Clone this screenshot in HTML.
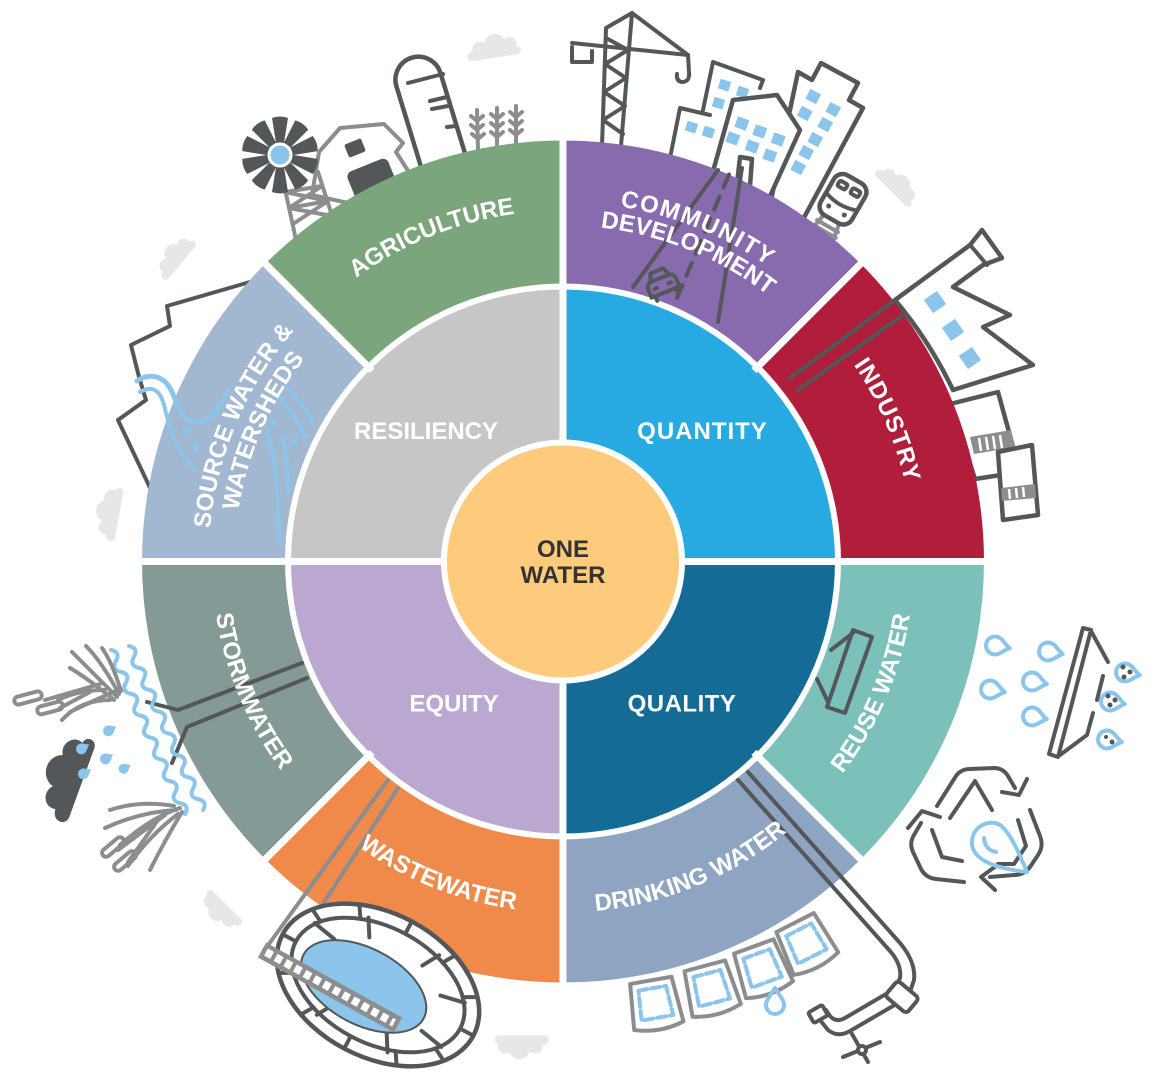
<!DOCTYPE html>
<html><head><meta charset="utf-8">
<style>
html,body{margin:0;padding:0;background:#fff;width:1156px;height:1080px;overflow:hidden}
svg{display:block}
.t{font-family:"Liberation Sans",Arial,sans-serif;font-weight:bold;font-size:24px;fill:#fff}
.d{fill:none;stroke:#54575A;stroke-width:4;stroke-linejoin:round;stroke-linecap:round}
.dw{fill:#fff;stroke:#54575A;stroke-width:4.5;stroke-linejoin:round;stroke-linecap:round}
.g{fill:none;stroke:#8C8D8F;stroke-width:4;stroke-linejoin:round;stroke-linecap:round}
.gw{fill:#fff;stroke:#8C8D8F;stroke-width:4;stroke-linejoin:round;stroke-linecap:round}
.b{fill:none;stroke:#8BC5EC;stroke-width:4;stroke-linejoin:round;stroke-linecap:round}
.bf{fill:#8BC5EC}
.cl{fill:#E6E7E8}
.bw{fill:#8BC5EC}
</style></head><body>
<svg width="1156" height="1080" viewBox="0 0 1156 1080" xmlns="http://www.w3.org/2000/svg">
<defs>
 <path id="w8" d="M563,561.5 L563,140.5 A421,421 0 0 0 265.31,263.81 Z"/>
 <path id="w4" d="M563,561.5 L563,289.5 A272,272 0 0 0 291,561.5 Z"/>
 <path id="tp351" d="M259.03,386 A351,351 0 0 1 866.97,386"/>
 <path id="tp359" d="M251.67,381.75 A359.5,359.5 0 0 1 874.33,381.75"/>
 <path id="tp336" d="M272.02,393.5 A336,336 0 0 1 853.98,393.5"/>
 <path id="tp355" d="M256,384.25 A354.5,354.5 0 0 1 870,384.25"/>
 <path id="tp329" d="M278.52,397.25 A328.5,328.5 0 0 1 847.48,397.25"/>
 <path id="bp351" d="M259.03,737 A351,351 0 0 0 866.97,737"/>
 <path id="cl" d="M-30,12 C-38,12 -38,0 -28,0 C-30,-10 -18,-14 -12,-8 C-9,-20 9,-21 13,-9 C21,-14 31,-6 27,2 C34,3 33,12 26,12 Z"/>
 <path id="dr" d="M12,0 C6,-3 3,-9 -3,-9 A9,9 0 0 0 -3,9 C3,9 6,3 12,0 Z"/>
 <path id="bl" d="M-4,-12 L4,-12 L8,-37 Q0,-40 -8,-37 Z"/>
 <path id="wv" d="M0,0 q8,6 0,12 q-8,6 0,12 q8,6 0,12 q-8,6 0,12 q8,6 0,12 q-8,6 0,12 q8,6 0,12 q-8,6 0,12 q8,6 0,12 q-8,6 0,12 q8,6 0,12 q-8,6 0,12 q8,6 0,12 q-8,6 0,12 q8,6 0,12"/>
</defs>

<!-- ========== BACKGROUND ICONS (behind ring) ========== -->
<use href="#cl" class="cl" transform="translate(495,48) rotate(-9) scale(0.8)"/>
<use href="#cl" class="cl" transform="translate(176,256) rotate(-50) scale(0.72)"/>
<use href="#cl" class="cl" transform="translate(110,512) rotate(-80) scale(0.8)"/>
<use href="#cl" class="cl" transform="translate(898,186) rotate(45) scale(0.72)"/>
<use href="#cl" class="cl" transform="translate(220,910) rotate(-135) scale(0.7)"/>
<use href="#cl" class="cl" transform="translate(520,1045) rotate(180) scale(0.8)"/>

<!-- agriculture: barn -->
<path class="gw" stroke-width="5" d="M312,195 L319,152 L340,128 L384,124 L403,143 L396,152 L414,180 L380,210 Z"/>
<rect x="-9" y="-7" width="18" height="14" rx="2" fill="#54575A" transform="translate(355,148) rotate(-22)"/>
<rect x="-22" y="-16" width="44" height="40" rx="6" fill="#54575A" transform="translate(372,180) rotate(-22)"/>
<path class="g" d="M283,180 L296,240 M318,172 L336,228 M285,192 L322,186 M289,208 L328,201 M285,192 L328,201 M322,186 L289,208 M289,208 L332,216 M328,201 L293,224"/>
<g transform="translate(280,155)" fill="#54575A">
 <use href="#bl"/><use href="#bl" transform="rotate(36)"/><use href="#bl" transform="rotate(72)"/><use href="#bl" transform="rotate(108)"/><use href="#bl" transform="rotate(144)"/><use href="#bl" transform="rotate(180)"/><use href="#bl" transform="rotate(216)"/><use href="#bl" transform="rotate(252)"/><use href="#bl" transform="rotate(288)"/><use href="#bl" transform="rotate(324)"/>
 <circle r="11" fill="#8BC5EC" stroke="#fff" stroke-width="3"/>
</g>
<g transform="translate(443,160) rotate(-17)"><path class="dw" stroke-width="5" d="M-23,14 V-84 A23,23 0 0 1 23,-84 V14"/></g>
<path class="d" d="M408,83 L443,74 M430,101 L447,97 M432,109 L448,106 M447,127 L456,126"/>
<g class="g" stroke-width="4">
 <path d="M477,110 L478,150 M477,121 l-6,-5 M477,121 l6,-5 M477,130 l-6,-5 M477,130 l6,-5 M478,139 l-6,-5 M478,139 l6,-5"/>
 <path d="M497,108 L497,148 M497,119 l-6,-5 M497,119 l6,-5 M497,128 l-6,-5 M497,128 l6,-5 M497,137 l-6,-5 M497,137 l6,-5"/>
 <path d="M516,106 L516,146 M516,117 l-6,-5 M516,117 l6,-5 M516,126 l-6,-5 M516,126 l6,-5 M516,135 l-6,-5 M516,135 l6,-5"/>
</g>

<path class="d" stroke-width="5" d="M250,282 L167,306 L170,326 L131,345 L139,377 L146,400 L118,420 L152,492"/>

<g class="d">
 <path d="M602,146 L606,28 L632,13 L621,146"/>
 <path d="M606,38 L628,50 L605,64 L626,78 L604,92 L625,106 L603,120 L623,134"/>
 <path d="M572,43 L688,55 L632,13"/>
 <path d="M688,55 L689,72 Q690,82 682,82 Q676,81 677,74"/>
 <path d="M572,47 V62 H592 V51"/>
</g>
<polygon fill="#fff" points="668,165 680,108 704,113 713,62 763,80 740,175"/>
<polyline class="d" points="668,168 680,108 710,115"/>
<polyline class="d" points="703,110 713,62 763,80 760,88"/>
<g class="bw">
 <rect x="719" y="80" width="11" height="10" transform="rotate(18 724 85)"/>
 <rect x="737" y="87" width="11" height="10" transform="rotate(18 742 92)"/>
 <rect x="713" y="98" width="11" height="10" transform="rotate(18 718 103)"/>
 <rect x="686" y="122" width="11" height="10" transform="rotate(18 691 127)"/>
 <rect x="703" y="127" width="11" height="10" transform="rotate(18 708 132)"/>
</g>
<polygon class="dw" points="770,205 798,72 812,80 821,63 858,83 849,100 863,108 800,225"/>
<g class="bw">
 <rect x="807" y="91" width="12" height="11" transform="rotate(28 813 97)"/>
 <rect x="827" y="104" width="12" height="11" transform="rotate(28 833 110)"/>
 <rect x="799" y="108" width="12" height="11" transform="rotate(28 805 113)"/>
 <rect x="819" y="119" width="12" height="11" transform="rotate(28 825 125)"/>
 <rect x="809" y="134" width="12" height="11" transform="rotate(28 815 140)"/>
 <rect x="800" y="147" width="12" height="11" transform="rotate(28 806 153)"/>
 <rect x="792" y="162" width="12" height="11" transform="rotate(28 798 168)"/>
</g>
<polygon class="dw" points="710,182 733,100 777,95 800,130 766,205"/>
<g class="bw">
 <rect x="736" y="118" width="12" height="11" transform="rotate(20 742 123)"/>
 <rect x="754" y="126" width="12" height="11" transform="rotate(20 760 131)"/>
 <rect x="772" y="134" width="12" height="11" transform="rotate(20 778 140)"/>
 <rect x="727" y="133" width="12" height="11" transform="rotate(20 733 138)"/>
 <rect x="746" y="141" width="12" height="11" transform="rotate(20 752 147)"/>
 <rect x="764" y="150" width="12" height="11" transform="rotate(20 770 155)"/>
</g>
<path class="dw" stroke-width="4" d="M737,184 L740,157 L752,159 L750,186"/>

<g transform="translate(842,201) rotate(30)">
 <path class="g" stroke-width="3" d="M-9,22 L-13,44 M9,22 L13,44 M-12,29 H12 M-13,35 H13 M-14,41 H14"/>
 <rect x="-18" y="-25" width="36" height="46" rx="10" class="dw" stroke-width="4"/>
 <rect x="-12" y="-17" width="9" height="6" rx="1.5" class="d" stroke-width="2.5"/>
 <rect x="3" y="-17" width="9" height="6" rx="1.5" class="d" stroke-width="2.5"/>
 <path class="d" stroke-width="2.5" d="M-17,1 Q0,7 17,1"/>
 <circle cx="-9" cy="11" r="2.5" fill="#54575A"/><circle cx="9" cy="11" r="2.5" fill="#54575A"/>
</g>

<path class="dw" stroke-width="5" d="M895,300 L970,245 L982,230 L1002,258 L983,265 L953,287 L1010,315 L983,327 L1033,365 L953,390 A424,424 0 0 0 895,300 Z"/>
<path class="d" stroke-width="4.5" d="M971,246 L987,265"/>
<g class="bw">
 <rect x="927" y="294" width="16" height="16" transform="rotate(-35 935 302)"/>
 <rect x="945" y="322" width="16" height="16" transform="rotate(-35 953 330)"/>
 <rect x="962" y="350" width="16" height="16" transform="rotate(-35 970 358)"/>
</g>
<polygon class="dw" points="950,404 998,392 1020,472 975,479"/>
<path fill="#8C8D8F" d="M970,437 L1011,430 L1015,447 L974,454 Z"/>
<path stroke="#fff" stroke-width="2.5" d="M979,438 L981,451 M986,437 L988,450 M993,436 L995,449 M1000,435 L1002,448"/>
<polygon class="dw" points="998,452 1032,445 1038,515 1003,520"/>
<path fill="#8C8D8F" d="M1001,488 L1035,484 L1036,498 L1002,501 Z"/>
<path stroke="#fff" stroke-width="2.5" d="M1009,489 L1010,499 M1016,488 L1017,498 M1023,487 L1024,497"/>

<!-- ========== RING ========== -->
<use href="#w8" fill="#7BA67C"/>
<use href="#w8" fill="#886BAE" transform="rotate(45 563 561.5)"/>
<use href="#w8" fill="#B01E3C" transform="rotate(90 563 561.5)"/>
<use href="#w8" fill="#7CC1B9" transform="rotate(135 563 561.5)"/>
<use href="#w8" fill="#8EA5C2" transform="rotate(180 563 561.5)"/>
<use href="#w8" fill="#F08A4B" transform="rotate(225 563 561.5)"/>
<use href="#w8" fill="#849A96" transform="rotate(270 563 561.5)"/>
<use href="#w8" fill="#A2B7D0" transform="rotate(315 563 561.5)"/>
<circle cx="563" cy="561.5" r="278" fill="#fff"/>
<use href="#w4" fill="#C6C6C6"/>
<use href="#w4" fill="#27AAE1" transform="rotate(90 563 561.5)"/>
<use href="#w4" fill="#146B96" transform="rotate(180 563 561.5)"/>
<use href="#w4" fill="#BAA8D0" transform="rotate(270 563 561.5)"/>
<g stroke="#fff" stroke-width="7">
 <line x1="563" y1="138" x2="563" y2="986"/>
 <line x1="140" y1="561.5" x2="986" y2="561.5"/>
 <line x1="753.9" y1="370.6" x2="862.1" y2="262.4"/>
 <line x1="372.1" y1="370.6" x2="263.9" y2="262.4"/>
 <line x1="372.1" y1="752.4" x2="263.9" y2="860.6"/>
 <line x1="753.9" y1="752.4" x2="862.1" y2="860.6"/>
</g>
<circle cx="563" cy="561.5" r="122" fill="#fff"/>
<circle cx="563" cy="561.5" r="116" fill="#FDCB7B"/>

<!-- ========== OVERLAY ICONS ========== -->
<g class="b">
 <path stroke-width="5" d="M137,381 C150,372 165,376 172,392 C180,412 186,425 200,422 C212,420 220,405 228,392"/>
 <path d="M140,392 C152,385 160,390 164,405 C170,430 178,455 195,470"/>
 <path d="M287,387 Q300,400 313,423"/>
 <path d="M280,397 Q294,415 306,437"/>
 <path d="M267,430 Q279,470 279,543"/>
 <path d="M283,437 Q289,465 288,493"/>
</g>
<g class="bw">
 <rect x="183" y="427" width="7" height="7" transform="rotate(35 186 430)"/>
 <rect x="192" y="443" width="7" height="7" transform="rotate(35 195 446)"/>
 <rect x="270" y="418" width="7" height="7" transform="rotate(35 273 421)"/>
 <rect x="291" y="438" width="7" height="7" transform="rotate(35 294 441)"/>
</g>

<g class="d">
 <path d="M633,287 L718,170"/>
 <path d="M677,298 L730,172" stroke-dasharray="14 10"/>
 <path d="M718,322 L742,168"/>
</g>
<g transform="translate(661,281) rotate(-22)" class="d" stroke-width="3">
 <path fill="#886BAE" d="M-15,4 L-15,12 L15,12 L15,4 Q15,-2 10,-3 L7,-11 L-7,-11 L-10,-3 Q-15,-2 -15,4 Z"/>
 <path d="M-10,-3 H10 M-11,12 V17 M11,12 V17 M-9,5 h3 M6,5 h3"/>
</g>

<path class="d" d="M895,300 L790,378 M903,315 L798,390"/>

<path class="d" d="M827,707 L853,630 L872,637 L845,713 Z M817,679 L828,702 M831,650 L853,633"/>

<g class="b" stroke-width="3.5">
 <use href="#dr" transform="translate(998,646) rotate(10)"/>
 <use href="#dr" transform="translate(1051,652) rotate(10)"/>
 <use href="#dr" transform="translate(993,690) rotate(10)"/>
 <use href="#dr" transform="translate(1035,682) rotate(10)"/>
 <use href="#dr" transform="translate(1035,717) rotate(10)"/>
 <use href="#dr" transform="translate(1128,673) rotate(10)"/>
 <use href="#dr" transform="translate(1113,702) rotate(10)"/>
 <use href="#dr" transform="translate(1110,740) rotate(10)"/>
</g>
<g fill="#54575A">
 <circle cx="1123" cy="667" r="2.5"/><circle cx="1130" cy="672" r="2.5"/><circle cx="1124" cy="677" r="2.5"/>
 <circle cx="1108" cy="696" r="2.5"/><circle cx="1115" cy="700" r="2.5"/><circle cx="1110" cy="705" r="2.5"/>
 <circle cx="1106" cy="737" r="2"/><circle cx="1112" cy="742" r="2.5"/>
</g>
<path class="d" d="M1049,754 L1083,628 L1091,630 L1058,757 Z M1091,631 L1108,662 M1103,676 L1097,700 M1093,713 L1087,735 L1060,755"/>

<!-- recycle -->
<g class="d" stroke-width="3.5">
 <path d="M937,806 L956,776 Q961,769 970,769 L994,768 Q1003,768 1008,776 L1015,788"/>
 <path d="M1002,792 L1019,795 L1027,779"/>
 <path d="M950,818 L975,781 L992,810"/>
 <path d="M1030,810 L1040,836 Q1044,846 1038,855 L1030,867 Q1024,875 1014,875 L990,877"/>
 <path d="M996,866 L981,877 L995,890"/>
 <path d="M1018,820 L1026,846 L1014,864 L998,864"/>
 <path d="M964,882 L936,879 Q926,878 921,869 L913,852 Q909,843 914,835 L921,823"/>
 <path d="M908,828 L922,811 L940,817"/>
 <path d="M932,830 L942,857 L962,861"/>
</g>
<path class="b" d="M1027,872 C1010,870 975,865 972,845 C970,828 988,818 1000,825 C1010,832 1020,855 1027,872 Z"/>
<path class="b" stroke-width="3" d="M984,838 Q985,850 996,852"/>

<!-- stormwater -->
<path class="d" d="M302,663 L178,710 L147,702 M307,678 L187,727 L172,763"/>
<g class="b">
 <use href="#wv" transform="translate(111,650) rotate(-24.3)"/>
 <use href="#wv" transform="translate(129,646) rotate(-24.3)"/>
</g>
<use href="#cl" fill="#54575A" transform="translate(68,775) rotate(-70) scale(1.3)"/>
<g class="bf">
 <use href="#dr" transform="translate(110,730) rotate(-30) scale(0.6)"/>
 <use href="#dr" transform="translate(83,748) rotate(-30) scale(0.6)"/>
 <use href="#dr" transform="translate(107,758) rotate(-30) scale(0.6)"/>
 <use href="#dr" transform="translate(125,768) rotate(-30) scale(0.55)"/>
 <use href="#dr" transform="translate(85,773) rotate(-30) scale(0.6)"/>
</g>
<g class="g" stroke-width="3">
 <path d="M117,697 Q92,672 72,652 M114,700 Q90,680 70,668 M119,694 Q102,662 86,646 M121,691 Q112,662 102,648 M118,690 Q95,700 70,712"/>
 <path d="M110,700 Q80,700 62,720 M105,690 Q78,690 58,700"/>
 <path d="M100,684 L45,700 M90,692 L60,708"/>
 <rect x="14" y="694" width="28" height="8" rx="4" transform="rotate(-15 28 698)"/>
 <rect x="37" y="704" width="26" height="8" rx="4" transform="rotate(-15 50 708)"/>
 <path d="M180,808 Q150,818 120,845 M178,814 Q150,835 128,866 M176,810 Q140,812 105,828 M182,812 Q165,840 150,870 M174,806 Q140,800 110,810"/>
 <path d="M165,815 L118,850 M158,820 L128,862"/>
 <rect x="100" y="843" width="26" height="8" rx="4" transform="rotate(-40 113 847)"/>
 <rect x="112" y="857" width="26" height="8" rx="4" transform="rotate(-40 125 861)"/>
</g>

<!-- wastewater -->
<path class="g" d="M388,780 L266,948 M398,788 L290,955"/>
<g transform="translate(378,985) rotate(28)">
 <ellipse rx="108" ry="72" class="dw" stroke-width="5"/>
 <ellipse rx="93" ry="58" class="d" stroke-width="4"/>
 <path class="d" stroke-width="2.5" d="M93,0 L108,0 M80.5,29 L93.5,36 M46.5,50 L54,62 M0,58 L0,72 M-46.5,50 L-54,62 M-80.5,29 L-93.5,36 M-93,0 L-108,0 M-80.5,-29 L-93.5,-36 M-46.5,-50 L-54,-62 M0,-58 L0,-72 M46.5,-50 L54,-62 M80.5,-29 L93.5,-36"/>
 <path class="d" stroke-width="2" d="M60,20 L85,25 M30,38 L40,55 M-30,38 L-40,55 M-60,20 L-85,25 M-60,-20 L-85,-25 M-30,-38 L-40,-55 M30,-38 L40,-55 M60,-20 L85,-25"/>
 <ellipse cx="-12" cy="8" rx="68" ry="38" fill="#8BC5EC" stroke="#54575A" stroke-width="2"/>
</g>
<line x1="262" y1="950" x2="398" y2="1025" stroke="#8C8D8F" stroke-width="17"/>
<line x1="266" y1="952" x2="394" y2="1023" stroke="#fff" stroke-width="8" stroke-dasharray="7 4"/>

<!-- drinking water -->
<g class="d" stroke="#6A6B6D">
 <path d="M748,772 L900,943 Q916,962 914,980 L910,992"/>
 <path d="M738,780 L890,951 Q902,965 900,978 L896,986"/>
</g>
<g class="d">
 <rect x="-14" y="-10" width="28" height="20" rx="4" fill="#fff" transform="translate(902,997) rotate(40)"/>
 <path d="M893,1006 L850,1031 Q838,1038 828,1030 L820,1020"/>
 <path d="M886,994 L845,1018 Q836,1023 830,1016 L826,1010"/>
 <rect x="-8" y="-6" width="16" height="12" rx="2" fill="#fff" transform="translate(818,1014) rotate(-30)"/>
 <path d="M852,1034 L868,1062 M843,1057 L880,1042"/>
 <circle cx="862" cy="1050" r="4" fill="#fff"/>
</g>
<g>
 <g transform="translate(655,1004) rotate(-10)"><path class="gw" d="M-21,-24 L21,-24 L25,22 Q0,30 -25,22 Z"/><path class="b" stroke-width="3" stroke-dasharray="9 4" d="M-14,-16 H14 L16,14 H-16 Z"/></g>
 <g transform="translate(711,989) rotate(-15)"><path class="gw" d="M-21,-24 L21,-24 L25,22 Q0,30 -25,22 Z"/><path class="b" stroke-width="3" stroke-dasharray="9 4" d="M-14,-16 H14 L16,14 H-16 Z"/></g>
 <g transform="translate(762,969) rotate(-20)"><path class="gw" d="M-21,-24 L21,-24 L25,22 Q0,30 -25,22 Z"/><path class="b" stroke-width="3" stroke-dasharray="9 4" d="M-14,-16 H14 L16,14 H-16 Z"/></g>
 <g transform="translate(806,944) rotate(-27)"><path class="gw" d="M-21,-24 L21,-24 L25,22 Q0,30 -25,22 Z"/><path class="b" stroke-width="3" stroke-dasharray="9 4" d="M-14,-16 H14 L16,14 H-16 Z"/></g>
</g>
<path class="b" stroke-width="3.5" d="M775,988 C770,996 766,1000 766,1005 A9,9 0 0 0 784,1005 C784,1000 780,996 775,988 Z"/>

<!-- ========== TEXT ========== -->
<text class="t" x="426" y="439" text-anchor="middle">RESILIENCY</text>
<text class="t" x="702.5" y="439" text-anchor="middle" letter-spacing="1">QUANTITY</text>
<text class="t" x="454" y="711.5" text-anchor="middle">EQUITY</text>
<text class="t" x="682" y="711.5" text-anchor="middle" letter-spacing="0.5">QUALITY</text>
<text class="t" x="563" y="557" text-anchor="middle" style="fill:#333">ONE</text>
<text class="t" x="563" y="583" text-anchor="middle" style="fill:#333">WATER</text>

<text class="t" transform="rotate(-22 563 561.5)"><textPath href="#tp351" startOffset="50%" text-anchor="middle">AGRICULTURE</textPath></text>
<text class="t" transform="rotate(22 563 561.5)" letter-spacing="1.5"><textPath href="#tp359" startOffset="50%" text-anchor="middle">COMMUNITY</textPath></text>
<text class="t" transform="rotate(22 563 561.5)"><textPath href="#tp336" startOffset="50%" text-anchor="middle">DEVELOPMENT</textPath></text>
<text class="t" transform="rotate(66.5 563 561.5)" letter-spacing="1"><textPath href="#tp351" startOffset="50%" text-anchor="middle">INDUSTRY</textPath></text>
<text class="t" transform="rotate(-67 563 561.5)"><textPath href="#tp355" startOffset="50%" text-anchor="middle">SOURCE WATER &amp;</textPath></text>
<text class="t" transform="rotate(-66.5 563 561.5)"><textPath href="#tp329" startOffset="50%" text-anchor="middle">WATERSHEDS</textPath></text>
<text class="t" transform="rotate(67.4 563 561.5)"><textPath href="#bp351" startOffset="50%" text-anchor="middle">STORMWATER</textPath></text>
<text class="t" transform="rotate(21.7 563 561.5)"><textPath href="#bp351" startOffset="50%" text-anchor="middle">WASTEWATER</textPath></text>
<text class="t" transform="rotate(-22.5 563 561.5)"><textPath href="#bp351" startOffset="50%" text-anchor="middle">DRINKING WATER</textPath></text>
<text class="t" transform="rotate(-67 563 561.5)"><textPath href="#bp351" startOffset="50%" text-anchor="middle">REUSE WATER</textPath></text>
</svg>
</body></html>
